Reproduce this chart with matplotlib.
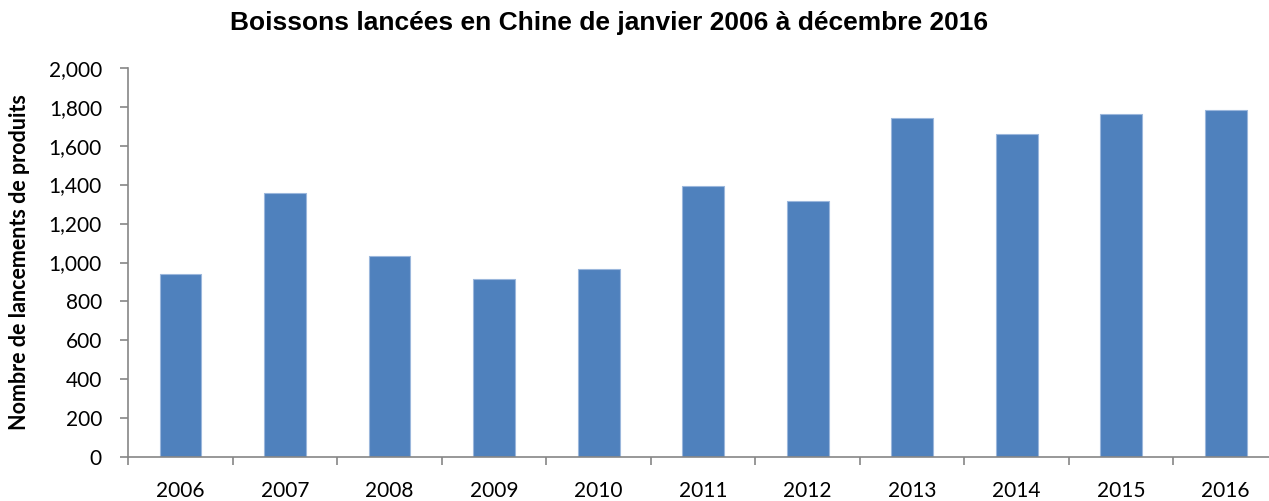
import matplotlib.pyplot as plt
from matplotlib.ticker import FuncFormatter, FixedLocator, NullFormatter
import numpy as np

years = ['2006', '2007', '2008', '2009', '2010', '2011', '2012', '2013', '2014', '2015', '2016']
launches = [939, 1355, 1035, 914, 967, 1393, 1316, 1742, 1658, 1761, 1781]

W, H = 1269, 501
fig = plt.figure(figsize=(W / 100, H / 100), dpi=100)
# plot area runs past the right edge of the picture, as in the original
ax = fig.add_axes([128.3 / W, (H - 457.3) / H, (1278 - 128.3) / W, (457.3 - 67.7) / H])

x = np.arange(len(years))
ax.bar(x, launches, width=0.4, color='#4f81bd', edgecolor='#9bb7dc', linewidth=0.8)

ax.set_xlim(-0.5, len(years) - 0.5)
ax.set_ylim(0, 2000)
ax.set_yticks(range(0, 2001, 200))
ax.yaxis.set_major_formatter(FuncFormatter(lambda v, p: f'{int(v):,}'))

# ticks between categories, labels under the bars
ax.xaxis.set_major_locator(FixedLocator(np.arange(-0.5, len(years), 1)))
ax.xaxis.set_major_formatter(NullFormatter())
ax.set_xticks(x, minor=True)
ax.set_xticklabels(years, minor=True)
ax.tick_params(axis='x', which='minor', length=0, pad=17, labelsize=15)
ax.tick_params(axis='x', which='major', length=6, width=1.2, color='#868686')
ax.tick_params(axis='y', length=6, width=1.2, color='#868686', labelsize=15, pad=13)
for lbl in ax.get_xticklabels(minor=True) + ax.get_yticklabels():
    lbl.set_family('Lato')

for s in ['top', 'right']:
    ax.spines[s].set_visible(False)
for s in ['left', 'bottom']:
    ax.spines[s].set_color('#868686')
    ax.spines[s].set_linewidth(1.2)

ax.set_ylabel('Nombre de lancements de produits', fontsize=15.5, fontweight='bold',
              family='Lato')
ax.yaxis.set_label_coords((30 - 128.3) / (1278 - 128.3), 0.5)
fig.text(609 / W, 1 - 23 / H, 'Boissons lancées en Chine de janvier 2006 à décembre 2016',
         ha='center', va='center', fontsize=19, fontweight='bold', family='Liberation Sans')

fig.savefig('out.png', dpi=100)
